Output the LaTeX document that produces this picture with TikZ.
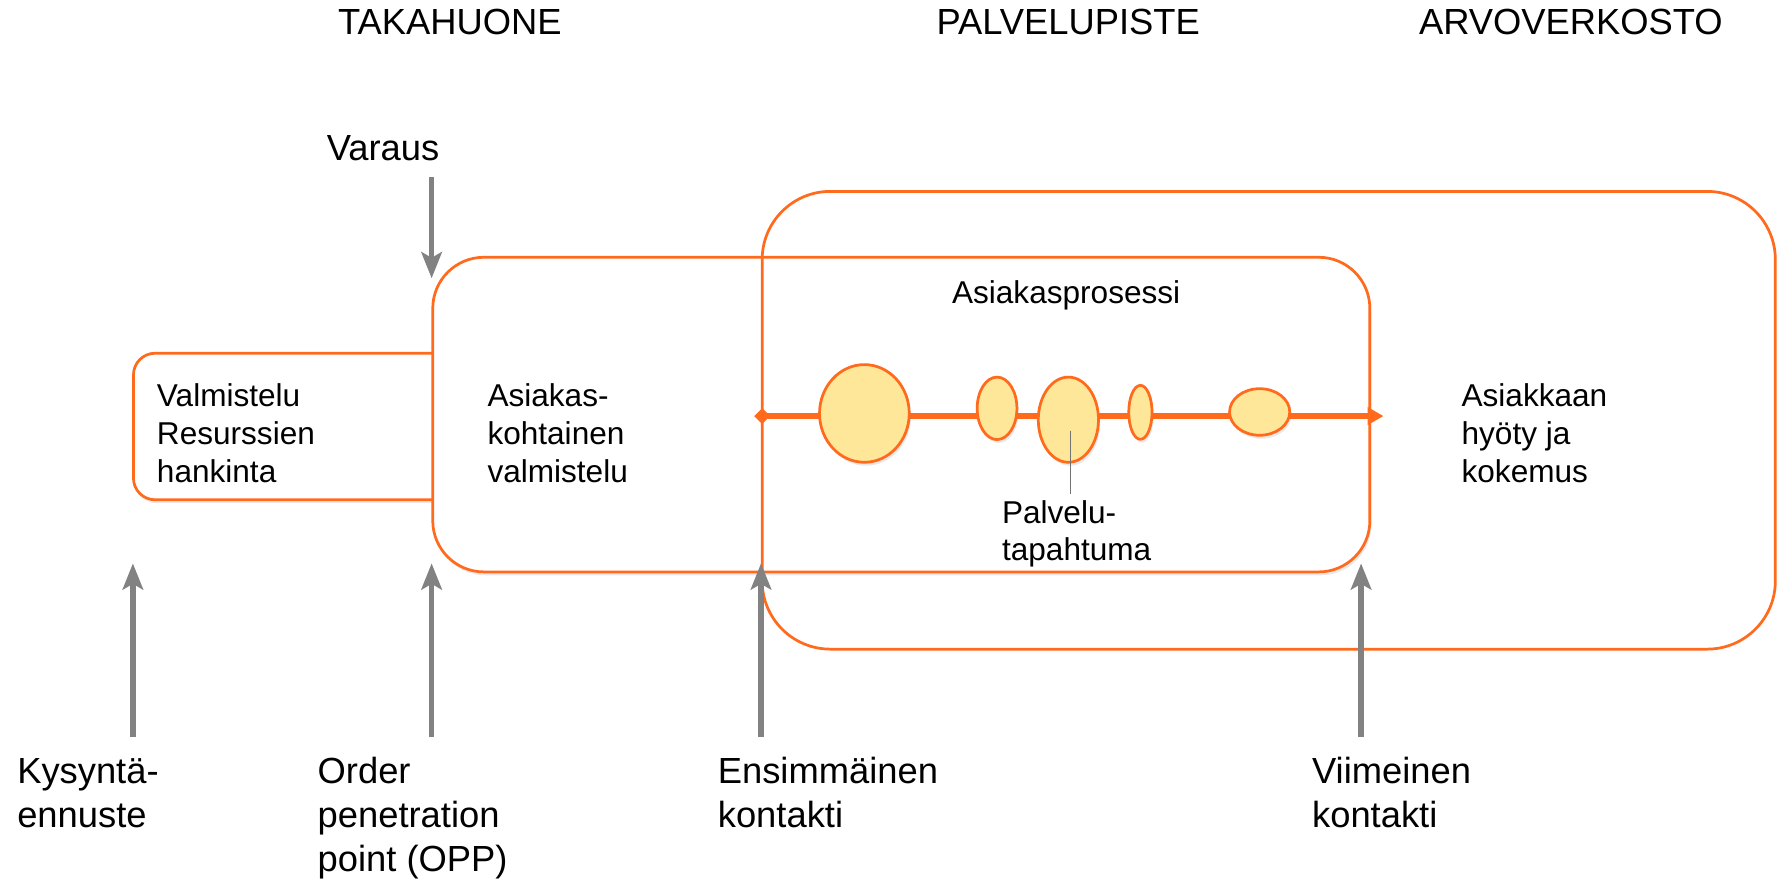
\documentclass[tikz,border=0pt]{standalone}
\usepackage{fontspec}
\setmainfont{Liberation Sans}
\usetikzlibrary{arrows.meta,shapes.geometric,shadows}
\definecolor{org}{HTML}{FF6A1C}
\definecolor{evfill}{HTML}{FFE79A}
\definecolor{arrgray}{HTML}{828282}
\begin{document}
\begin{tikzpicture}[x=1pt,y=-1pt,
  box/.style={draw=org, line width=2.4pt, fill=white, rounded corners=#1, inner sep=0pt},
  shad/.style={drop shadow={opacity=0.18, shadow xshift=1.5pt, shadow yshift=-3pt}},
  ev/.style={ellipse, draw=org, line width=2.4pt, fill=evfill, inner sep=0pt, shad},
  lbl/.style={font=\fontsize{27.8}{33.5}\selectfont, align=left, inner sep=0pt, anchor=base west},
  big/.style={font=\fontsize{32}{38.6}\selectfont, align=left, inner sep=0pt, anchor=base west},
  ttl/.style={font=\fontsize{32}{38.6}\selectfont, inner sep=0pt, anchor=base},
  garrow/.style={draw=arrgray, line width=5pt, -{Stealth[length=23pt,width=18pt,inset=5pt]}},
  tline/.style={draw=org, line width=4.7pt, {Turned Square[length=14pt,width=14pt]}-{Triangle[length=14pt,width=15pt]}},
  pointer/.style={draw=black!55, line width=0.8pt}
]
\useasboundingbox (0,0) rectangle (1568,777);

% titles
\node[ttl] (t1) at (396,30) {TAKAHUONE};
\node[ttl] (t2) at (940.5,30) {PALVELUPISTE};
\node[ttl] (t3) at (1383,30) {ARVOVERKOSTO};

% boxes
\node[box=19pt, shad, minimum width=303pt, minimum height=129pt] (prep) at (269,375.5) {};
\node[box=45pt, shad, minimum width=825pt, minimum height=277pt] (cust) at (793.5,365) {};

% timeline
\coordinate (tll) at (664,366.3);
\coordinate (tlr) at (1218,366.3);
\draw[tline] (tll) -- (tlr);

% service encounters
\node[ev, minimum width=79pt, minimum height=86pt] (e1) at (761,364) {};
\node[ev, minimum width=35pt, minimum height=55pt] (e2) at (877.8,359.5) {};
\node[ev, minimum width=53pt, minimum height=75pt] (e3) at (940.6,369.5) {};
\node[ev, minimum width=20.5pt, minimum height=47.5pt] (e4) at (1004,363) {};
\node[ev, minimum width=53pt, minimum height=41pt] (e5) at (1109,362.7) {};

% outer box
\node[box=60pt, fill=none, minimum width=892pt, minimum height=403pt] (net) at (1117,370) {};

% pointer
\coordinate (pt1) at (942.7,379.2);
\coordinate (pt2) at (942.7,435.2);
\draw[pointer] (pt1) -- (pt2);

% texts in boxes (anchor = baseline of last line)
\node[lbl] (prept) at (138,425) {Valmistelu\\Resurssien\\hankinta};
\node[lbl] (custt) at (429,425) {Asiakas-\\kohtainen\\valmistelu};
\node[lbl] (proct) at (838,267) {Asiakasprosessi};
\node[lbl] (bent) at (1286.6,425) {Asiakkaan\\hyöty ja\\kokemus};
\node[lbl, font=\fontsize{27.8}{32.5}\selectfont] (evt) at (882,493.1) {Palvelu-\\tapahtuma};

% Varaus
\node[big] (var) at (287.5,141.5) {Varaus};
\coordinate (vs) at (380,155.5);
\coordinate (ve) at (380,245);
\draw[garrow] (vs) -- (ve);

% bottom labels (anchor = baseline of last line)
\node[big] (kys) at (15,728.6) {Kysyntä-\\ennuste};
\node[big] (opp) at (279.5,767.2) {Order\\penetration\\point (OPP)};
\node[big] (first) at (631.8,728.6) {Ensimmäinen\\kontakti};
\node[big] (last) at (1155,728.6) {Viimeinen\\kontakti};

% bottom arrows
\coordinate (a1s) at (117,648.6);   \coordinate (a1e) at (117,496);
\coordinate (a2s) at (380,648.6);   \coordinate (a2e) at (380,496);
\coordinate (a3s) at (670,648.6);   \coordinate (a3e) at (670,496);
\coordinate (a4s) at (1198.3,648.6);\coordinate (a4e) at (1198.3,496);
\draw[garrow] (a1s) -- (a1e);
\draw[garrow] (a2s) -- (a2e);
\draw[garrow] (a3s) -- (a3e);
\draw[garrow] (a4s) -- (a4e);
\end{tikzpicture}
\end{document}
